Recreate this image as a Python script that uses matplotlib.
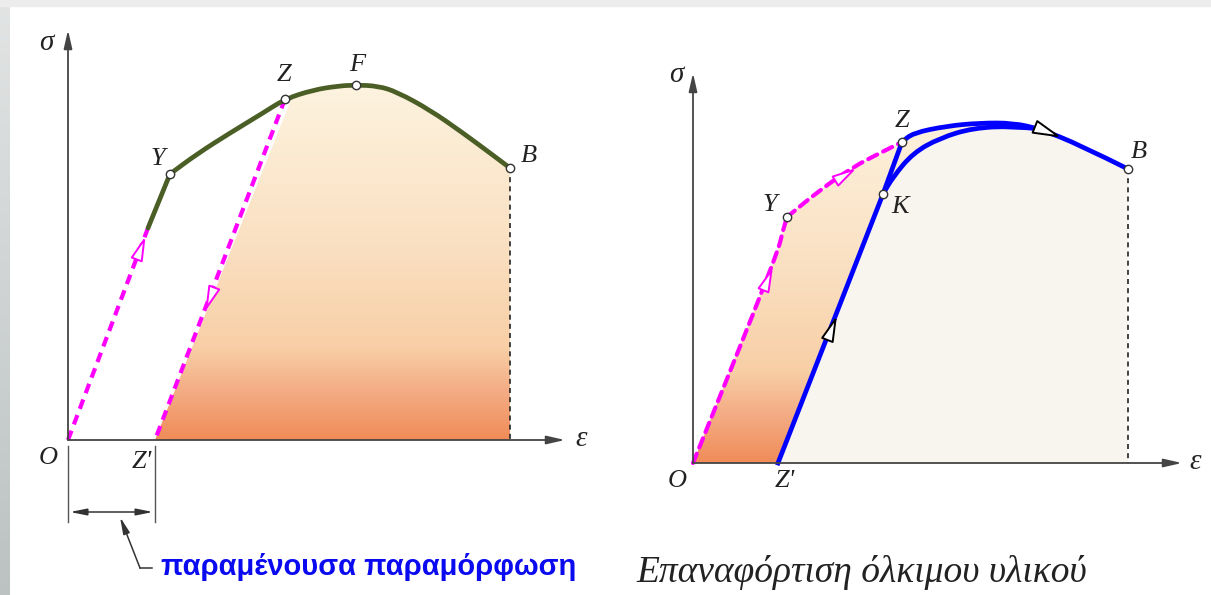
import numpy as np
import matplotlib
matplotlib.use('Agg')
import matplotlib.pyplot as plt
from matplotlib.colors import LinearSegmentedColormap
from matplotlib.patches import Polygon, Rectangle, PathPatch
from matplotlib.path import Path

# --- left diagram: tensile curve with unloading (strain, stress in diagram units) ---
yield_pt = (102, 266)
z_pt = (217, 341)
f_pt = (288, 355)
b_pt = (442, 272)
z_prime = (87, 0)
elastic_end = (80, 212)
plast_e = [102, 129, 162, 195, 217, 245, 270, 288, 310, 329, 362, 395, 422, 442]
plast_s = [266, 286, 307, 327, 341, 350, 354, 355, 354, 348, 330, 307, 287, 272]

# --- right diagram: reloading of a ductile material ---
r_zp = (85, 0)
r_k = (190, 269)
r_z = (209, 321)
r_y = (94, 246)
r_b = (435, 294)
load_e = [0, 84, 90, 94]
load_s = [0, 208, 233, 246]
load2_e = [94, 127, 160, 187, 209]
load2_s = [246, 273, 296, 310, 321]
main_e = [209, 220, 254, 287, 320, 347, 387, 435]
main_s = [321, 330, 337, 340, 340, 334, 318, 294]
inner_e = [190, 200, 220, 247, 280, 320, 347]
inner_s = [269, 286, 310, 325, 335, 337, 334]
join_e = 347

title_left = 'παραμένουσα παραμόρφωση'
title_right = 'Επαναφόρτιση όλκιμου υλικού'

W, H = 1211, 595
fig = plt.figure(figsize=(W / 100, H / 100), dpi=100)
fig.patch.set_facecolor('white')

# frame strips
bg = fig.add_axes([0, 0, 1, 1])
bg.set_xlim(0, W)
bg.set_ylim(H, 0)
bg.axis('off')
strip = np.linspace(0, 1, 100).reshape(-1, 1)
bg.imshow(strip, extent=[0, 10, H, 0], aspect='auto',
          cmap=LinearSegmentedColormap.from_list('g', ['#e2e4e4', '#bcc2c2']), zorder=1)
bg.add_patch(Rectangle((0, 0), W, 6, color='#ececec', zorder=1))

grad_cmap = LinearSegmentedColormap.from_list(
    'fill', [(0.0, '#f08c58'), (0.14, '#f4ad86'), (0.26, '#f8cfa6'),
             (0.55, '#fae0c2'), (1.0, '#fdf3df')])
serif = dict(family='Liberation Serif', style='italic', color='#222222')

mag = '#ff00ff'
green = '#4b5e26'
blue = '#0000ff'


def smooth(xs, ys):
    # quadratic bezier through midpoints, exact at both ends
    pts = list(zip(xs, ys))
    if len(pts) < 3:
        return pts, [Path.MOVETO] + [Path.LINETO] * (len(pts) - 1)
    verts = [pts[0], ((pts[0][0] + pts[1][0]) / 2, (pts[0][1] + pts[1][1]) / 2)]
    codes = [Path.MOVETO, Path.LINETO]
    for i in range(1, len(pts) - 1):
        end = pts[i + 1] if i == len(pts) - 2 else \
            ((pts[i][0] + pts[i + 1][0]) / 2, (pts[i][1] + pts[i + 1][1]) / 2)
        verts += [pts[i], end]
        codes += [Path.CURVE3, Path.CURVE3]
    return verts, codes


def flat(xs, ys, reverse=False, lo=None, hi=None):
    v, c = smooth(xs, ys)
    p = Path(v, c).to_polygons(closed_only=False)[0]
    p = [tuple(q) for q in p
         if (lo is None or q[0] >= lo) and (hi is None or q[0] <= hi)]
    return p[::-1] if reverse else p


def curve(ax, xs, ys, color, lw=3.4, ls='-'):
    v, c = smooth(xs, ys)
    ax.add_patch(PathPatch(Path(v, c), facecolor='none', edgecolor=color, lw=lw,
                           linestyle=ls, capstyle='round', joinstyle='round', zorder=5))


def tri_verts(angle):
    base = np.array([[1.0, 0.0], [-1.0, 0.5], [-1.0, -0.5], [1.0, 0.0]])
    c, s = np.cos(angle), np.sin(angle)
    return base @ np.array([[c, -s], [s, c]]).T


def arrow_on(ax, p0, p1, frac, ec, size=17, fc='white'):
    x = p0[0] + frac * (p1[0] - p0[0])
    y = p0[1] + frac * (p1[1] - p0[1])
    ang = np.arctan2(p1[1] - p0[1], p1[0] - p0[0])
    ax.plot(x, y, marker=tri_verts(ang), ms=size, mfc=fc, mec=ec, mew=1.4, zorder=6)


def gradient_fill(ax, verts, top):
    poly = Polygon(verts, closed=True, facecolor='none', edgecolor='none')
    ax.add_patch(poly)
    g = np.linspace(0, 1, 256).reshape(-1, 1)
    xs = [v[0] for v in verts]
    im = ax.imshow(g, extent=[min(xs), max(xs), 0, top], origin='lower',
                   aspect='auto', cmap=grad_cmap, zorder=2)
    im.set_clip_path(poly)


def axes_arrows(ax, xmax, ymax):
    style = '-|>,head_length=1.1,head_width=0.25'
    ax.annotate('', xy=(xmax, 0), xytext=(0, 0),
                arrowprops=dict(arrowstyle=style, color='#444444', lw=1.3, shrinkA=0, shrinkB=0), zorder=7)
    ax.annotate('', xy=(0, ymax), xytext=(0, 0),
                arrowprops=dict(arrowstyle=style, color='#444444', lw=1.3, shrinkA=0, shrinkB=0), zorder=7)


def circle(ax, p):
    ax.plot(*p, 'o', ms=6, mfc='white', mec='#333333', mew=1.0, zorder=8)


def label(ax, x, y, s, size=19):
    ax.text(x, y, s, fontsize=size, ha='center', va='center', **serif)


dash = (0, (2.4, 1.6))

# ================= left =================
ax1 = fig.add_axes([0, 0, 605 / W, 1])
ax1.set_xlim(-68, 537)
ax1.set_ylim(-155, 440)
ax1.axis('off')

fill1 = [z_prime] + flat(plast_e, plast_s, lo=z_pt[0]) + [(b_pt[0], 0)]
gradient_fill(ax1, fill1, 356)

ax1.plot([b_pt[0], b_pt[0]], [b_pt[1], 0], color='#222222', lw=1.2, ls=(0, (3, 2.5)), zorder=4)
ax1.plot([0, elastic_end[0]], [0, elastic_end[1]], color=mag, lw=3, ls=dash, zorder=5)
ax1.plot([z_pt[0], z_prime[0]], [z_pt[1], z_prime[1]], color=mag, lw=3, ls=dash, zorder=5)
ax1.plot([elastic_end[0], yield_pt[0]], [elastic_end[1], yield_pt[1]], color=green, lw=3.4,
         solid_capstyle='round', zorder=5)
curve(ax1, plast_e, plast_s, green)
arrow_on(ax1, (0, 0), elastic_end, 0.9, mag)
arrow_on(ax1, z_pt, z_prime, 0.58, mag)
axes_arrows(ax1, 497, 410)
for p in [yield_pt, z_pt, f_pt, b_pt]:
    circle(ax1, p)

label(ax1, 90, 281, 'Y')
label(ax1, 216, 365, 'Z')
label(ax1, 289, 375, 'F')
label(ax1, 461, 284, 'B')
label(ax1, -20, -18, 'O')
label(ax1, 74, -22, "Z'")
label(ax1, -22, 397, 'σ', 21)
label(ax1, 513, 1, 'ε', 21)

# permanent strain dimension
ax1.plot([0, 0], [-6, -82], color='#555555', lw=1)
ax1.plot([z_prime[0], z_prime[0]], [-6, -82], color='#555555', lw=1)
ax1.annotate('', xy=(2, -72), xytext=(z_prime[0] - 2, -72),
             arrowprops=dict(arrowstyle='<|-|>,head_length=1.0,head_width=0.2',
                             color='#333333', lw=1.1, shrinkA=0, shrinkB=0))
ax1.annotate('', xy=(52, -77), xytext=(72, -128),
             arrowprops=dict(arrowstyle='-|>,head_length=1.0,head_width=0.2',
                             color='#333333', lw=1.1, shrinkA=0, shrinkB=0))
ax1.plot([72, 84], [-128, -128], color='#333333', lw=1.1)
ax1.text(93, -127, title_left, fontsize=21, fontweight='bold', color='#0a0af0',
         family='Liberation Sans', ha='left', va='center')

# ================= right =================
ax2 = fig.add_axes([605 / W, 0, 606 / W, 1])
ax2.set_xlim(-88, 518)
ax2.set_ylim(-132, 463)
ax2.axis('off')

beige = [r_zp] + flat(inner_e, inner_s) + flat(main_e, main_s, lo=join_e) + [(r_b[0], 0)]
ax2.add_patch(Polygon(beige, closed=True, facecolor='#f8f4ee', edgecolor='none', zorder=2))
fill2 = flat(load_e, load_s) + flat(load2_e, load2_s) + flat(main_e, main_s, hi=join_e) + \
        flat(inner_e, inner_s, reverse=True) + [r_zp]
gradient_fill(ax2, fill2, 356)

ax2.plot([r_b[0], r_b[0]], [r_b[1], 0], color='#222222', lw=1.2, ls=(0, (3, 2.5)), zorder=4)
curve(ax2, load_e, load_s, mag, lw=3, ls=dash)
curve(ax2, load2_e, load2_s, mag, lw=3, ls=dash)
ax2.plot([r_zp[0], r_k[0], r_z[0]], [r_zp[1], r_k[1], r_z[1]], color=blue, lw=3.4,
         solid_joinstyle='round', zorder=5)
curve(ax2, main_e, main_s, blue)
curve(ax2, inner_e, inner_s, blue)
arrow_on(ax2, (load_e[0], load_s[0]), (load_e[1], load_s[1]), 0.88, mag)
arrow_on(ax2, (load2_e[1], load2_s[1]), (load2_e[3], load2_s[3]), 0.4, mag)
arrow_on(ax2, r_zp, r_k, 0.5, 'black', size=18)
arrow_on(ax2, (main_e[5], main_s[5]), (main_e[6], main_s[6]), 0.15, 'black', size=20)
axes_arrows(ax2, 489, 390)
for p in [r_y, r_z, r_k, r_b]:
    circle(ax2, p)

label(ax2, 77, 258, 'Y')
label(ax2, 209, 342, 'Z')
label(ax2, 207, 256, 'K')
label(ax2, 446, 311, 'B')
label(ax2, -16, -18, 'O')
label(ax2, 92, -18, "Z'")
label(ax2, -17, 388, 'σ', 21)
label(ax2, 502, 1, 'ε', 21)
ax2.text(-57, -109, title_right, fontsize=27, ha='left', va='center', **serif)

fig.savefig('out.png', dpi=100)
